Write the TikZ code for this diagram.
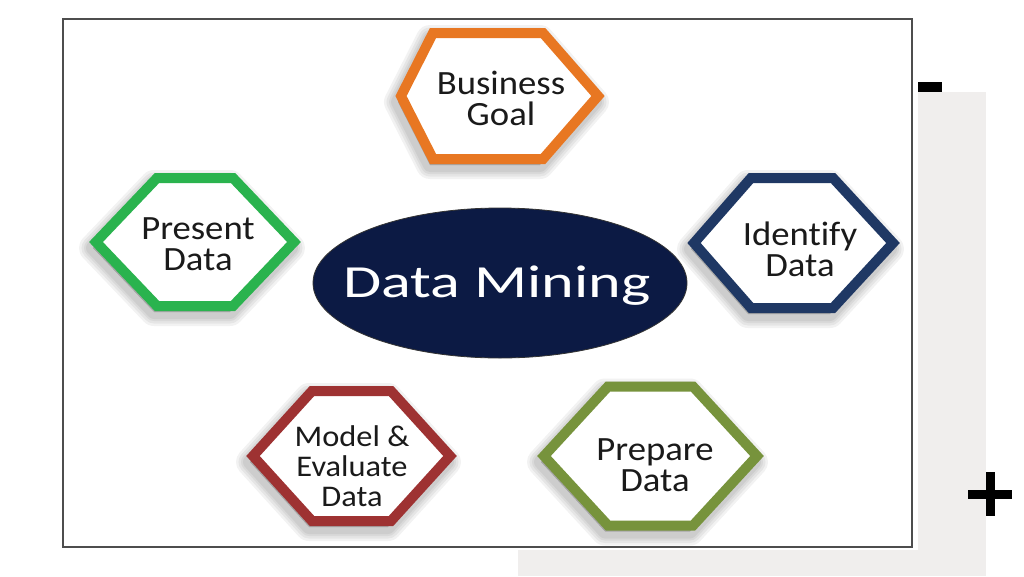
\documentclass[tikz,border=0pt]{standalone}
\usepackage{fontspec}
\usepackage{graphicx}
\setmainfont{Carlito}[FakeStretch=1.08, Ligatures=NoCommon]
\usetikzlibrary{shapes.geometric}
\definecolor{bgGray}{HTML}{F0EEED}
\definecolor{frameGray}{HTML}{4D4D4D}
\definecolor{txtCol}{HTML}{1A1A1A}
\definecolor{cOrange}{HTML}{E87722}
\definecolor{cGreen}{HTML}{2AB34E}
\definecolor{cNavy}{HTML}{1F3864}
\definecolor{cRed}{HTML}{9E3232}
\definecolor{cOlive}{HTML}{77933C}
\definecolor{cEllipse}{HTML}{0C1A44}
\tikzset{
  hextext/.style={font=\fontsize{34}{31}\selectfont, align=center, text=txtCol, inner sep=0pt},
  hexborder/.style={line width=10pt, line join=miter, fill=white},
  hexshade/.style={black, opacity=0.05, line join=round},
}
% #1 left x, #2 right x, #3 centre y, #4 half height, #5 left slant, #6 right slant, #7 colour
\newcommand{\hexagonshape}[7]{%
  \foreach \w in {28,23,18,14} {%
    \filldraw[hexshade, line width=\w pt, shift={(-3,6)}]
      (#1,#3) -- ({#1+#5},{#3-#4}) -- ({#2-#6},{#3-#4}) -- (#2,#3)
      -- ({#2-#6},{#3+#4}) -- ({#1+#5},{#3+#4}) -- cycle;
  }
  \draw[hexborder, draw=#7]
    (#1,#3) -- ({#1+#5},{#3-#4}) -- ({#2-#6},{#3-#4}) -- (#2,#3)
    -- ({#2-#6},{#3+#4}) -- ({#1+#5},{#3+#4}) -- cycle;
}
\begin{document}
\begin{tikzpicture}[x=1pt,y=-1pt]
  \useasboundingbox (0,0) rectangle (1024,576);
  \fill[white] (0,0) rectangle (1024,576);
  % grey panel behind
  \fill[bgGray] (918,92) rectangle (986,576);
  \fill[bgGray] (518,550) rectangle (986,576);
  % frame
  \fill[white] (60,16) rectangle (917,550);
  \draw[frameGray, line width=2pt] (63,19) rectangle (912,547);
  % minus and plus
  \fill[black] (918,82) rectangle (942,92);
  \fill[black] (968,489.5) rectangle (1012,498.5);
  \fill[black] (986,472) rectangle (995,516);
  % hexagons
  \hexagonshape{401}{598}{96}{63}{32}{55}{cOrange}
  \hexagonshape{96}{294}{242}{64}{61}{61}{cGreen}
  \hexagonshape{694}{893}{243}{65}{57}{60}{cNavy}
  \hexagonshape{253}{450}{456}{65}{59}{59}{cRed}
  \hexagonshape{544}{757}{456}{69.5}{64}{64}{cOlive}
  % central ellipse
  \node[ellipse, fill=cEllipse, draw=black!80, line width=0.8pt, inner sep=0pt,
        minimum width=374pt, minimum height=150pt] (dm) at (500,283) {};
  \node[inner sep=0pt, text=white, font=\fontsize{46}{50}\selectfont, anchor=base]
        (dmtext) at (497,297) {\scalebox{1.25}[1]{Data Mining}};
  % labels
  \node[hextext] (bg) at (501,98) {Business\\Goal};
  \node[hextext] (pd) at (198,244) {Present\\Data};
  \node[hextext] (id) at (800,249) {Identify\\Data};
  \node[hextext, font=\fontsize{30}{30}\selectfont] (me) at (352,466) {Model \&\\Evaluate\\Data};
  \node[hextext] (pr) at (655,465) {Prepare\\Data};
\end{tikzpicture}
\end{document}
